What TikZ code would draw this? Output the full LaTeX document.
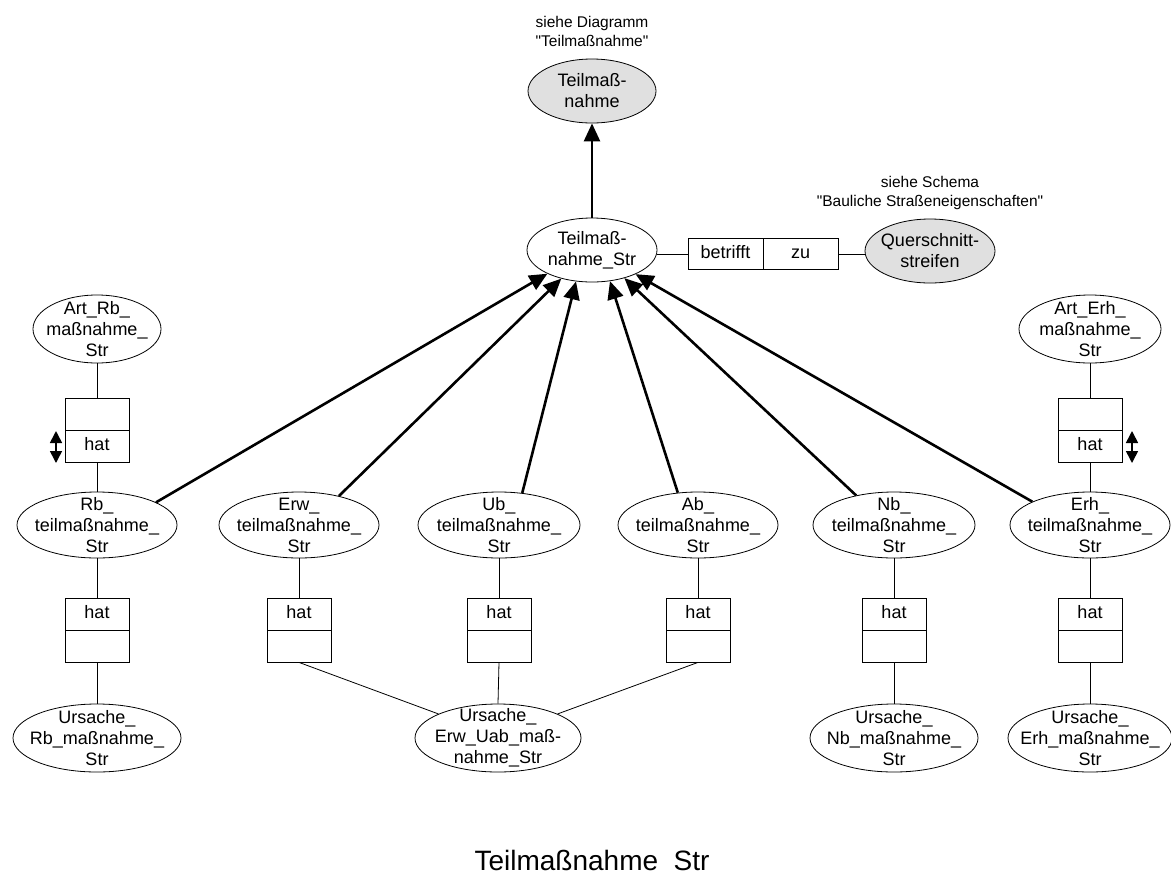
\documentclass[tikz,border=0pt]{standalone}
\usepackage{fontspec}
\setmainfont{Liberation Sans}
\usetikzlibrary{shapes.geometric,arrows.meta}
\newcommand\mainfnt{\fontsize{18}{21}\selectfont}
\newcommand\notefnt{\fontsize{15.5}{19}\selectfont}
\newcommand\titlefnt{\fontsize{28}{32}\selectfont}
\definecolor{entgray}{HTML}{E0E0E0}
\tikzset{
  ent/.style={ellipse, draw, line width=0.8pt, inner sep=0pt},
  gent/.style={ent, fill=entgray},
  lbl/.style={align=center, font=\mainfnt, inner sep=0pt},
  half/.style={rectangle, draw, line width=0.8pt, minimum width=64pt, minimum height=32pt, inner sep=0pt, font=\mainfnt, text height=13pt, text depth=4pt},
  conn/.style={line width=0.8pt},
  isa/.style={line width=2.6pt, -{Triangle[length=18pt,width=16pt]}},
  dbl/.style={line width=1.6pt, {Triangle[length=12pt,width=12pt]}-{Triangle[length=12pt,width=12pt]}},
  note/.style={align=center, font=\notefnt, inner sep=0pt},
}
\begin{document}
\begin{tikzpicture}[x=1pt,y=-1pt]
\useasboundingbox (0,0) rectangle (1171,879);

% top
\node[note] (n1) at (592,31) {siehe Diagramm\\\textquotedbl Teilmaßnahme\textquotedbl};
\node[gent, minimum width=128pt, minimum height=64pt, label={[lbl]center:Teilmaß-\\nahme}] (tm) at (592,91) {};
\node[ent, minimum width=130pt, minimum height=64pt, label={[lbl]center:Teilmaß-\\nahme\_Str}] (str) at (592,250) {};
\node[half, minimum width=75pt, minimum height=31pt] (bz1) at (725.5,254) {betrifft};
\node[half, minimum width=75pt, minimum height=31pt] (bz2) at (800.5,254) {zu};
\node[gent, minimum width=130pt, minimum height=64pt, label={[lbl]center:Querschnitt-\\streifen}] (qs) at (930,251) {};
\node[note] (n2) at (930,193) {siehe Schema\\\textquotedbl Bauliche Straßeneigenschaften\textquotedbl};

% left column
\node[ent, minimum width=128pt, minimum height=68pt, label={[lbl]center:Art\_Rb\_\\maßnahme\_\\Str}] (artrb) at (97,329) {};
\node[half] (artrb1) at (97,414) {};
\node[half] (artrb2) at (97,446) {hat};
\coordinate (dl1) at (56,431);
\coordinate (dl2) at (56,463);
\node[ent, minimum width=160pt, minimum height=66pt, label={[lbl]center:Rb\_\\teilmaßnahme\_\\Str}] (rb) at (97,525) {};
\node[half] (rbb1) at (97,614) {hat};
\node[half] (rbb2) at (97,646) {};
\node[ent, minimum width=168pt, minimum height=68pt, label={[lbl]center:Ursache\_\\Rb\_maßnahme\_\\Str}] (urb) at (97,738) {};

% Erw
\node[ent, minimum width=160pt, minimum height=66pt, label={[lbl]center:Erw\_\\teilmaßnahme\_\\Str}] (erw) at (299,525) {};
\node[half] (erwb1) at (299,614) {hat};
\node[half] (erwb2) at (299,646) {};

% Ub
\node[ent, minimum width=162pt, minimum height=66pt, label={[lbl]center:Ub\_\\teilmaßnahme\_\\Str}] (ub) at (499,525) {};
\node[half] (ubb1) at (499,614) {hat};
\node[half] (ubb2) at (499,646) {};
\node[ent, minimum width=166pt, minimum height=68pt, label={[lbl]center:Ursache\_\\Erw\_Uab\_maß-\\nahme\_Str}] (uerw) at (498,738) {};

% Ab
\node[ent, minimum width=160pt, minimum height=66pt, label={[lbl]center:Ab\_\\teilmaßnahme\_\\Str}] (ab) at (698,525) {};
\node[half] (abb1) at (698,614) {hat};
\node[half] (abb2) at (698,646) {};

% Nb
\node[ent, minimum width=162pt, minimum height=66pt, label={[lbl]center:Nb\_\\teilmaßnahme\_\\Str}] (nb) at (894,525) {};
\node[half] (nbb1) at (894,614) {hat};
\node[half] (nbb2) at (894,646) {};
\node[ent, minimum width=168pt, minimum height=68pt, label={[lbl]center:Ursache\_\\Nb\_maßnahme\_\\Str}] (unb) at (894,738) {};

% Erh
\node[ent, minimum width=142pt, minimum height=68pt, label={[lbl]center:Art\_Erh\_\\maßnahme\_\\Str}] (arterh) at (1090,329) {};
\node[half] (arterh1) at (1090,414) {};
\node[half] (arterh2) at (1090,446) {hat};
\coordinate (dr1) at (1132,431);
\coordinate (dr2) at (1132,463);
\node[ent, minimum width=160pt, minimum height=66pt, label={[lbl]center:Erh\_\\teilmaßnahme\_\\Str}] (erh) at (1090,525) {};
\node[half] (erhb1) at (1090,614) {hat};
\node[half] (erhb2) at (1090,646) {};
\node[ent, minimum width=164pt, minimum height=68pt, label={[lbl]center:Ursache\_\\Erh\_maßnahme\_\\Str}] (uerh) at (1090,738) {};

% title
\node[font=\titlefnt, inner sep=0pt] (title) at (592,860) {Teilmaßnahme\ \ Str};

% connectors
\draw[isa] (str.north) -- (tm.south);
\draw[conn] (bz1.west) -- (bz1.west -| str.east);
\draw[conn] (bz2.east) -- (bz2.east -| qs.west);

\draw[isa] (rb.21) -- (str.208);
\draw[isa] (erw.36) -- (str.223);
\draw[isa] (ub.54) -- (str.243);
\draw[isa] (ab.122) -- (str.300);
\draw[isa] (nb.142) -- (str.319);
\draw[isa] (erh.158) -- (str.331);

\draw[conn] (artrb.south) -- (artrb1.north);
\draw[conn] (artrb2.south) -- (rb.north);
\draw[dbl] (dl1) -- (dl2);
\draw[conn] (rb.south) -- (rbb1.north);
\draw[conn] (rbb2.south) -- (urb.north);

\draw[conn] (erw.south) -- (erwb1.north);
\draw[conn] (ub.south) -- (ubb1.north);
\draw[conn] (ab.south) -- (abb1.north);
\draw[conn] (erwb2.south) -- (uerw.158);
\draw[conn] (ubb2.south) -- (uerw.north);
\draw[conn] (abb2.south) -- (uerw.22);

\draw[conn] (nb.south) -- (nbb1.north);
\draw[conn] (nbb2.south) -- (unb.north);

\draw[conn] (arterh.south) -- (arterh1.north);
\draw[conn] (arterh2.south) -- (erh.north);
\draw[dbl] (dr1) -- (dr2);
\draw[conn] (erh.south) -- (erhb1.north);
\draw[conn] (erhb2.south) -- (uerh.north);
\end{tikzpicture}
\end{document}
